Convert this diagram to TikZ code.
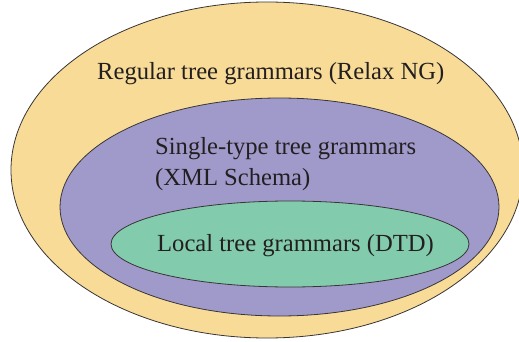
\documentclass[tikz,border=0pt]{standalone}
\usepackage{fontspec}
\setmainfont{Liberation Serif}
\definecolor{outerc}{HTML}{F7DB97}
\definecolor{midc}{HTML}{A09ACB}
\definecolor{innerc}{HTML}{82CCAD}
\definecolor{txt}{HTML}{231F20}
\begin{document}
\begin{tikzpicture}[x=1pt,y=-1pt,
  set/.style={draw=txt!90, line width=0.8pt},
  lbl/.style={anchor=base west, inner sep=0pt, text=txt, font=\fontsize{24.6}{31}\selectfont}]
\useasboundingbox (0,0) rectangle (519,342);
\clip (0,0) rectangle (519,342);
\filldraw[set, fill=outerc] (267,170) ellipse [x radius=256, y radius=168];
\filldraw[set, fill=midc] (279.5,207) ellipse [x radius=219.5, y radius=109];
\filldraw[set, fill=innerc] (290,244) ellipse [x radius=179, y radius=43];
\node[lbl] (reg) at (97,80) {Regular tree grammars (Relax NG)};
\node[lbl] (single) at (155,154) {Single-type tree grammars};
\node[lbl] (xml) at (155,185) {(XML Schema)};
\node[lbl] (local) at (157,251) {Local tree grammars (DTD)};
\end{tikzpicture}
\end{document}
